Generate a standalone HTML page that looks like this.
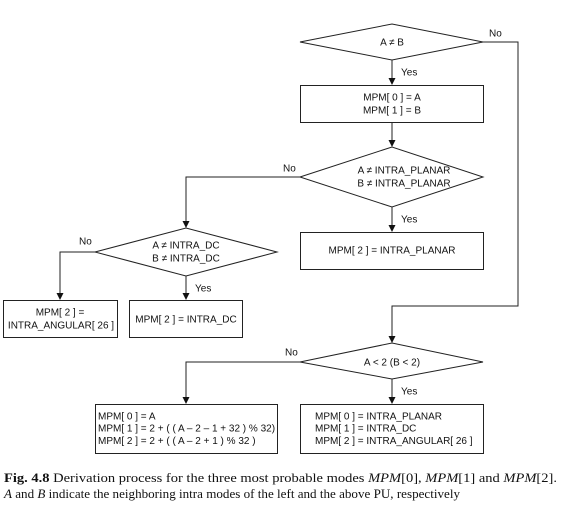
<!DOCTYPE html>
<html><head><meta charset="utf-8"><style>
html,body{margin:0;padding:0;background:#fff;width:561px;height:513px;overflow:hidden}
svg text{font-family:"Liberation Sans",sans-serif;font-size:10px;fill:#111}
.cap{font-family:"Liberation Serif",serif;font-size:12.6px;fill:#111}
</style></head><body>
<svg width="561" height="513" viewBox="0 0 561 513" xmlns="http://www.w3.org/2000/svg">
<g fill="none" stroke="#222" stroke-width="1">
<polygon points="300,42 392,24 483,42 392,60"/>
<rect x="300.5" y="85.5" width="183" height="37"/>
<polygon points="300,177 392,147 483,177 392,207"/>
<rect x="300.5" y="232.5" width="183" height="37"/>
<polygon points="95,252 186,228 277,252 186,276"/>
<rect x="3.5" y="300.5" width="114" height="37"/>
<rect x="129.5" y="300.5" width="113" height="37"/>
<polygon points="300,362 392,343 483,362 392,379"/>
<rect x="95.5" y="404.5" width="182" height="49"/>
<rect x="300.5" y="404.5" width="183" height="49"/>
<path d="M483,42 H518 V306 H392 V337"/>
<path d="M392,60 V79"/>
<path d="M392,122 V141"/>
<path d="M392,207 V226"/>
<path d="M300,177 H186 V222"/>
<path d="M186,276 V294"/>
<path d="M95,252 H60 V294"/>
<path d="M392,379 V398"/>
<path d="M300,362 H186 V398"/>
</g>
<g fill="#111">
<path d="M388.5,78 L395.5,78 L392,85 Z"/>
<path d="M388.5,140 L395.5,140 L392,147 Z"/>
<path d="M388.5,225 L395.5,225 L392,232 Z"/>
<path d="M182.5,221 L189.5,221 L186,228 Z"/>
<path d="M182.5,293 L189.5,293 L186,300 Z"/>
<path d="M56.5,293 L63.5,293 L60,300 Z"/>
<path d="M388.5,336 L395.5,336 L392,343 Z"/>
<path d="M388.5,397 L395.5,397 L392,404 Z"/>
<path d="M182.5,397 L189.5,397 L186,404 Z"/>
</g>
<text x="392" y="45.5" text-anchor="middle">A ≠ B</text>
<text x="489" y="36.5">No</text>
<text x="401" y="75.5">Yes</text>
<text x="392" y="100.5" text-anchor="middle">MPM[ 0 ] = A</text>
<text x="392" y="113.5" text-anchor="middle">MPM[ 1 ] = B</text>
<text x="404" y="173.5" text-anchor="middle">A ≠ INTRA_PLANAR</text>
<text x="404" y="186.5" text-anchor="middle">B ≠ INTRA_PLANAR</text>
<text x="283" y="171.5">No</text>
<text x="401" y="222.5">Yes</text>
<text x="392" y="253.5" text-anchor="middle">MPM[ 2 ] = INTRA_PLANAR</text>
<text x="186" y="248.5" text-anchor="middle">A ≠ INTRA_DC</text>
<text x="186" y="261.5" text-anchor="middle">B ≠ INTRA_DC</text>
<text x="79" y="244.5">No</text>
<text x="195" y="291.5">Yes</text>
<text x="60" y="315.5" text-anchor="middle">MPM[ 2 ] =</text>
<text x="61" y="328.5" text-anchor="middle">INTRA_ANGULAR[ 26 ]</text>
<text x="186" y="322.5" text-anchor="middle">MPM[ 2 ] = INTRA_DC</text>
<text x="392" y="365.5" text-anchor="middle">A &lt; 2 (B &lt; 2)</text>
<text x="285" y="355.5">No</text>
<text x="401" y="394.5">Yes</text>
<text x="98" y="419.5">MPM[ 0 ] = A</text>
<text x="98" y="431.5">MPM[ 1 ] = 2 + ( ( A – 2 – 1 + 32 ) % 32)</text>
<text x="98" y="444">MPM[ 2 ] = 2 + ( ( A – 2 + 1 ) % 32 )</text>
<text x="315" y="419.5">MPM[ 0 ] = INTRA_PLANAR</text>
<text x="315" y="431.5">MPM[ 1 ] = INTRA_DC</text>
<text x="315" y="444">MPM[ 2 ] = INTRA_ANGULAR[ 26 ]</text>
<text class="cap" x="4" y="482" textLength="553" lengthAdjust="spacingAndGlyphs"><tspan font-weight="bold">Fig. 4.8</tspan>  Derivation process for the three most probable modes <tspan font-style="italic">MPM</tspan>[0], <tspan font-style="italic">MPM</tspan>[1] and <tspan font-style="italic">MPM</tspan>[2].</text>
<text class="cap" x="4" y="498" textLength="456" lengthAdjust="spacingAndGlyphs"><tspan font-style="italic">A</tspan> and <tspan font-style="italic">B</tspan> indicate the neighboring intra modes of the left and the above PU, respectively</text>
</svg>
</body></html>
